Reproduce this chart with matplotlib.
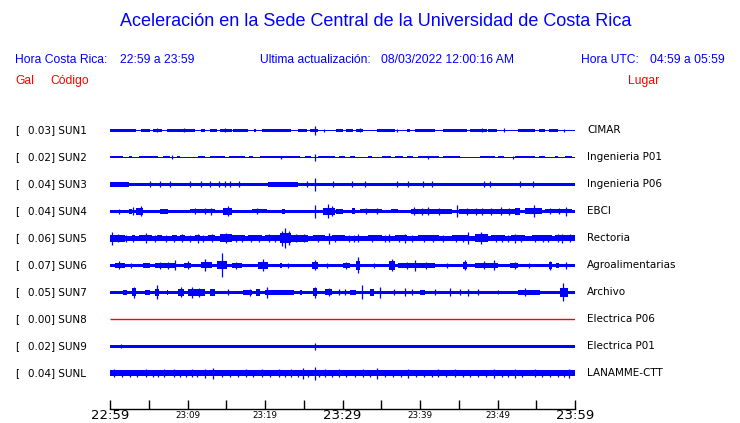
import matplotlib
matplotlib.use('Agg')
import matplotlib.pyplot as plt
from matplotlib.transforms import blended_transform_factory

# station codes, peak values (gal) and places
codes = ['SUN1', 'SUN2', 'SUN3', 'SUN4', 'SUN5', 'SUN6', 'SUN7', 'SUN8', 'SUN9', 'SUNL']
gal = [0.03, 0.02, 0.04, 0.04, 0.06, 0.07, 0.05, 0.00, 0.02, 0.04]
places = ['CIMAR', 'Ingenieria P01', 'Ingenieria P06', 'EBCI', 'Rectoria',
          'Agroalimentarias', 'Archivo', 'Electrica P06', 'Electrica P01', 'LANAMME-CTT']

# time axis, minutes after 22:59
tick_minutes = list(range(0, 61, 5))
tick_labels = ['22:59', '', '23:09', '', '23:19', '', '23:29', '', '23:39', '', '23:49', '', '23:59']

# trace envelopes (half amplitude, screen units)
base_amp = [0.6, 0.6, 1.7, 1.5, 2.4, 1.5, 1.5, 0.0, 1.5, 3.1]

# bursts: (start minute, end minute, half amplitude)
sun1_bursts = [(0, 3.4, 1.4), (4.0, 5.2, 1.4), (5.6, 6.7, 1.4), (7.3, 11.0, 1.4), (11.8, 12.3, 1.4),
               (12.9, 13.8, 1.4), (14.2, 15.7, 1.4), (15.9, 17.8, 1.4), (18.6, 18.9, 1.4),
               (19.6, 23.4, 1.4), (24.3, 25.4, 1.4), (25.8, 26.9, 1.4), (29.2, 30.1, 1.4),
               (30.5, 31.4, 1.4), (31.8, 32.7, 1.4), (34.4, 36.8, 1.4), (38.3, 38.7, 1.4),
               (39.4, 41.9, 1.4), (43.0, 46.0, 1.4), (46.5, 48.6, 1.4), (48.8, 49.9, 1.4),
               (52.7, 54.8, 1.4), (55.3, 56.1, 1.4), (56.6, 57.8, 1.4)]
sun2_bursts = [(0, 1.7, 1.2), (2.4, 2.8, 1.2), (3.7, 6.2, 1.2), (6.9, 7.7, 1.2), (8.6, 9.0, 1.2),
               (11.4, 12.3, 1.2), (12.9, 14.8, 1.2), (15.3, 17.4, 1.2), (17.9, 18.5, 1.2),
               (19.4, 24.5, 1.2), (25.2, 26.0, 1.2), (26.9, 29.0, 1.2), (29.5, 30.3, 1.2),
               (31.0, 31.6, 1.2), (33.3, 33.8, 1.2), (35.1, 36.3, 1.2), (36.8, 37.8, 1.2),
               (38.3, 39.1, 1.2), (39.8, 42.4, 1.2), (43.0, 45.2, 1.2), (47.7, 49.7, 1.2),
               (50.0, 50.9, 1.2), (52.3, 54.8, 1.2), (55.3, 56.1, 1.2), (57.4, 57.8, 1.2),
               (58.7, 59.6, 1.2)]
sun3_bursts = [(0, 2.4, 2.5), (20.4, 24.3, 2.3)]
sun4_bursts = [(2.4, 2.8, 2.6), (3.4, 4.3, 3.6), (6.5, 7.5, 2.6), (10.3, 13.5, 2.1), (14.6, 15.7, 3.6),
               (18.3, 20.2, 2.1), (22.2, 22.6, 2.3), (27.5, 29.0, 3.6), (29.2, 30.1, 2.3),
               (31.2, 31.6, 3.2), (32.3, 35.1, 2.1), (36.3, 37.2, 2), (38.9, 44.1, 2.4),
               (45.0, 52.3, 2.4), (52.3, 52.9, 3.6), (53.5, 55.7, 3.0), (56.1, 59.6, 2.2)]
sun5_bursts = [(0, 1.9, 3.6), (2.8, 3.2, 3), (3.7, 5.4, 3.2), (6.0, 6.7, 3), (8.0, 8.6, 3),
               (9.0, 9.7, 3.2), (11.0, 11.6, 3.2), (12.7, 13.5, 3.2), (14.2, 15.7, 3.8),
               (15.7, 17.4, 2.8), (17.8, 19.6, 2.8), (20.0, 21.9, 3.0), (21.9, 23.4, 5),
               (23.4, 25.6, 3.4), (26.2, 27.7, 2.8), (28.6, 30.3, 2.8), (33.3, 35.1, 2.8),
               (36.8, 38.3, 3.2), (39.8, 42.4, 2.8), (44.1, 46.2, 2.8), (47.1, 48.8, 3.8),
               (49.2, 51.0, 2.8), (51.8, 53.5, 3.2), (54.4, 57.0, 2.8), (57.4, 60, 3.2)]
sun6_bursts = [(0.6, 1.9, 2.6), (4.3, 5.2, 2.6), (5.8, 8.4, 2.4), (9.5, 10.5, 2.6), (11.8, 13.1, 3.0),
               (13.8, 15.1, 4), (15.7, 17.0, 2.5), (19.1, 20.4, 3.2), (21.9, 22.2, 2.6),
               (26.0, 26.9, 3.6), (30.1, 31.0, 2.6), (31.8, 32.3, 4.5), (36.0, 36.8, 4.5),
               (37.2, 41.9, 2.4), (45.6, 46.0, 3.6), (47.1, 50.1, 2.8), (51.6, 52.7, 2.6),
               (56.6, 57.0, 3.2), (57.6, 57.9, 2.6)]
sun7_bursts = [(1.7, 2.2, 2.6), (2.8, 3.4, 4), (4.5, 5.2, 2.6), (5.8, 6.3, 3.2), (7.3, 7.5, 2.6),
               (8.8, 9.5, 3.6), (10.1, 12.3, 3.2), (12.9, 13.5, 3.2), (17.2, 18.3, 2.6),
               (18.9, 19.4, 3.6), (20.0, 23.7, 2.5), (24.5, 24.8, 2.6), (26.2, 26.7, 4.2),
               (27.7, 28.6, 3.0), (31.0, 31.8, 2.6), (33.6, 34.0, 3.2), (40.0, 40.6, 2.6),
               (52.7, 55.5, 2.8), (58.1, 59.1, 4.5)]
bursts = [sun1_bursts, sun2_bursts, sun3_bursts, sun4_bursts, sun5_bursts,
          sun6_bursts, sun7_bursts, [], [], []]

# spikes: (minute, half amplitude)
sun1_spikes = [(26.4, 4.7), (14.8, 2.2), (50.8, 2.2), (6.0, 1.8), (9.6, 1.8), (27.6, 1.6),
               (32.2, 1.8), (37.0, 1.6), (48.0, 1.8), (58.6, 1.6)]
sun2_spikes = [(26.5, 3.3), (8.0, 1.8), (22.0, 1.6), (41.0, 1.6), (52.0, 1.6)]
sun3_spikes = [(26.5, 6.3), (5.2, 2.8), (6.5, 2.8), (7.7, 2.8), (10.3, 2.8), (11.8, 2.8),
               (12.9, 2.8), (14.0, 2.8), (14.8, 2.8), (15.5, 2.8), (16.6, 2.8), (25.4, 2.8),
               (28.8, 2.8), (31.2, 2.8), (32.9, 2.8), (37.0, 2.8), (38.5, 2.8), (40.4, 2.8),
               (41.5, 2.8), (48.2, 2.8), (49.0, 2.8), (52.9, 2.8), (54.6, 2.8)]
sun4_spikes = [(4.0, 5), (26.4, 6.5), (28.1, 7), (44.8, 6), (54.7, 6), (58.9, 4.5), (1.2, 2.5),
               (13.0, 3.5), (39.2, 4), (41.0, 4), (50.5, 4), (48.0, 3.5), (11.0, 3), (12.2, 3),
               (19.0, 3), (33.0, 3), (34.4, 3), (40.2, 3.5), (42.5, 3.5), (46.0, 3.5),
               (47.2, 3.5), (49.2, 3.5), (51.5, 3.5), (56.8, 3.2), (57.9, 3.2), (3.0, 4),
               (15.2, 5), (28.6, 5)]
sun5_spikes = [(0.3, 6.5), (4.7, 5), (22.6, 10), (22.2, 7.5), (23.1, 7), (28.2, 5.5), (46.2, 6),
               (47.9, 6), (52.3, 4.5), (32.0, 4), (36.0, 4), (38.1, 4.5), (15.0, 5),
               (11.3, 4.5), (58.3, 4.5), (1.0, 4), (2.0, 3.5), (3.0, 3.5), (5.8, 3.5),
               (7.2, 3.5), (8.3, 3.5), (9.3, 4), (10.3, 3.5), (12.0, 3.5), (13.1, 4),
               (16.2, 3.5), (17.0, 3.5), (18.2, 3.5), (19.2, 3.5), (20.5, 4), (21.3, 3.5),
               (24.0, 4), (25.0, 4), (26.8, 3.5), (29.0, 3.5), (30.8, 3.5), (31.5, 3.5),
               (33.8, 3.5), (35.5, 3.5), (37.3, 3.5), (39.0, 3.5), (40.5, 3.5), (41.7, 3.5),
               (43.0, 3.5), (44.6, 3.5), (45.5, 3.5), (49.8, 3.5), (50.6, 3.5), (51.3, 3.5),
               (53.0, 3.5), (54.8, 3.5), (55.9, 3.5), (56.5, 3.5), (57.8, 4), (59.3, 4)]
sun6_spikes = [(8.4, 5), (12.3, 6), (14.4, 12), (19.7, 6), (32.0, 8), (36.4, 6), (39.4, 5.5),
               (49.5, 5), (58.9, 3.5), (2.7, 2.5), (23.0, 2.5), (28.0, 2.5), (34.0, 2.5),
               (43.5, 2.5), (54.0, 2.5), (1.2, 4), (6.5, 3.5), (7.5, 3.5), (10.0, 4),
               (16.3, 3.5), (26.4, 5), (30.5, 3.5), (38.3, 3.5), (40.8, 3.5), (45.8, 5),
               (48.2, 4), (52.2, 3.5), (56.8, 4.5)]
sun7_spikes = [(6.0, 7), (10.6, 5.5), (20.3, 5.5), (32.5, 7), (34.8, 5.5), (38.1, 4), (43.9, 4),
               (46.2, 3.5), (58.5, 9), (15.2, 3), (29.5, 3), (30.3, 3), (36.6, 3), (39.0, 3),
               (41.9, 3), (45.2, 3), (47.5, 3), (50.0, 2), (53.6, 4), (3.1, 5.5), (9.1, 5),
               (11.5, 4.5), (18.0, 3.5), (26.4, 5.5), (28.2, 4)]
sun9_spikes = [(26.4, 3.5), (1.4, 2)]
sunl_spikes = [(13.3, 5.5), (24.9, 5.5), (26.4, 6.5), (34.4, 5.5), (0.5, 4), (4.7, 4), (7.0, 4),
               (8.2, 4), (10.6, 4), (12.3, 4.5), (17.5, 4), (19.6, 4), (21.8, 4), (23.3, 4),
               (27.8, 4), (29.5, 4), (32.7, 4), (38.5, 4.5), (42.3, 4), (44.5, 4), (49.6, 4.5),
               (52.2, 4.5), (54.8, 4), (59.2, 4.5), (1.5, 3.8), (2.6, 3.8), (3.5, 3.8),
               (5.5, 3.8), (6.2, 3.8), (9.0, 3.8), (9.8, 3.8), (11.2, 3.8), (14.5, 3.8),
               (15.5, 3.8), (16.5, 3.8), (18.5, 3.8), (20.7, 3.8), (22.6, 3.8), (24.2, 3.8),
               (25.6, 3.8), (27.0, 3.8), (28.6, 3.8), (30.5, 3.8), (31.6, 3.8), (33.5, 3.8),
               (35.5, 3.8), (36.5, 3.8), (37.5, 3.8), (39.5, 3.8), (40.5, 3.8), (41.5, 3.8),
               (43.3, 3.8), (45.5, 3.8), (46.5, 3.8), (47.5, 3.8), (48.5, 3.8), (50.6, 3.8),
               (51.4, 3.8), (53.2, 3.8), (55.8, 3.8), (56.8, 3.8), (57.8, 3.8), (58.6, 3.8)]
spikes = [sun1_spikes, sun2_spikes, sun3_spikes, sun4_spikes, sun5_spikes,
          sun6_spikes, sun7_spikes, [], sun9_spikes, sunl_spikes]

W, H = 740, 423
BLUE = '#0000ff'
RED = '#ff0000'
UNIT = 27.0  # trace spacing in screen units

fig = plt.figure(figsize=(W / 100, H / 100), dpi=100)
ax = fig.add_axes([110 / W, (H - 408.5) / H, 465 / W, (408.5 - 117) / H])
ax.set_xlim(0, 60)
ax.set_ylim((408.5 - 130.3) / UNIT, (117 - 130.3) / UNIT)

for i in range(len(codes)):
    if gal[i] == 0:
        # dead channel drawn as a flat red line
        ax.hlines(i, 0, 60, color=RED, lw=1.0)
        continue
    b = base_amp[i] / UNIT
    ax.bar(0, 2 * b, width=60, bottom=i - b, align='edge', color=BLUE, linewidth=0)
    for s, e, a in bursts[i]:
        a = a / UNIT
        ax.bar(s, 2 * a, width=e - s, bottom=i - a, align='edge', color=BLUE, linewidth=0)
    for t, a in spikes[i]:
        a = a / UNIT
        ax.vlines(t, i - a, i + a, color=BLUE, lw=0.9)

for side in ['left', 'right', 'top']:
    ax.spines[side].set_visible(False)
ax.spines['bottom'].set_linewidth(1.0)
ax.set_yticks([])
ax.set_xticks(tick_minutes)
ax.set_xticklabels(tick_labels)
ax.tick_params(axis='x', direction='in', length=6.2, width=1.0, pad=5.0)
for lab in ax.get_xticklabels():
    lab.set_verticalalignment('center')
    if lab.get_text() in ('22:59', '23:29', '23:59'):
        lab.set_fontsize(9.5)
    else:
        lab.set_fontsize(6.3)

# labels beside each trace
left_tr = blended_transform_factory(fig.transFigure, ax.transData)
for i in range(len(codes)):
    ax.text(15 / W, i, '[', transform=left_tr, fontsize=7.5, va='center', ha='left')
    ax.text(27.5 / W, i, '%.2f] %s' % (gal[i], codes[i]), transform=left_tr,
            fontsize=7.5, va='center', ha='left')
    ax.text(587 / W, i, places[i], transform=left_tr, fontsize=7.5, va='center', ha='left')

# header
hdr = 'Liberation Sans'
fig.text(376 / W, 1 - 22 / H, 'Aceleración en la Sede Central de la Universidad de Costa Rica',
         ha='center', va='center', color=BLUE, fontsize=13, family=hdr)
fig.text(15 / W, 1 - 60 / H, 'Hora Costa Rica:', color=BLUE, fontsize=8.7, va='center', family=hdr)
fig.text(120 / W, 1 - 60 / H, '22:59 a 23:59', color=BLUE, fontsize=8.7, va='center', family=hdr)
fig.text(260 / W, 1 - 60 / H, 'Ultima actualización:', color=BLUE, fontsize=8.7, va='center', family=hdr)
fig.text(381 / W, 1 - 60 / H, '08/03/2022 12:00:16 AM', color=BLUE, fontsize=8.7, va='center', family=hdr)
fig.text(581 / W, 1 - 60 / H, 'Hora UTC:', color=BLUE, fontsize=8.7, va='center', family=hdr)
fig.text(650 / W, 1 - 60 / H, '04:59 a 05:59', color=BLUE, fontsize=8.7, va='center', family=hdr)
fig.text(15 / W, 1 - 81 / H, 'Gal', color=RED, fontsize=8.7, va='center', family=hdr)
fig.text(50 / W, 1 - 81 / H, 'Código', color=RED, fontsize=8.7, va='center', family=hdr)
fig.text(628 / W, 1 - 81 / H, 'Lugar', color=RED, fontsize=8.7, va='center', family=hdr)

fig.savefig('out.png', dpi=100)
